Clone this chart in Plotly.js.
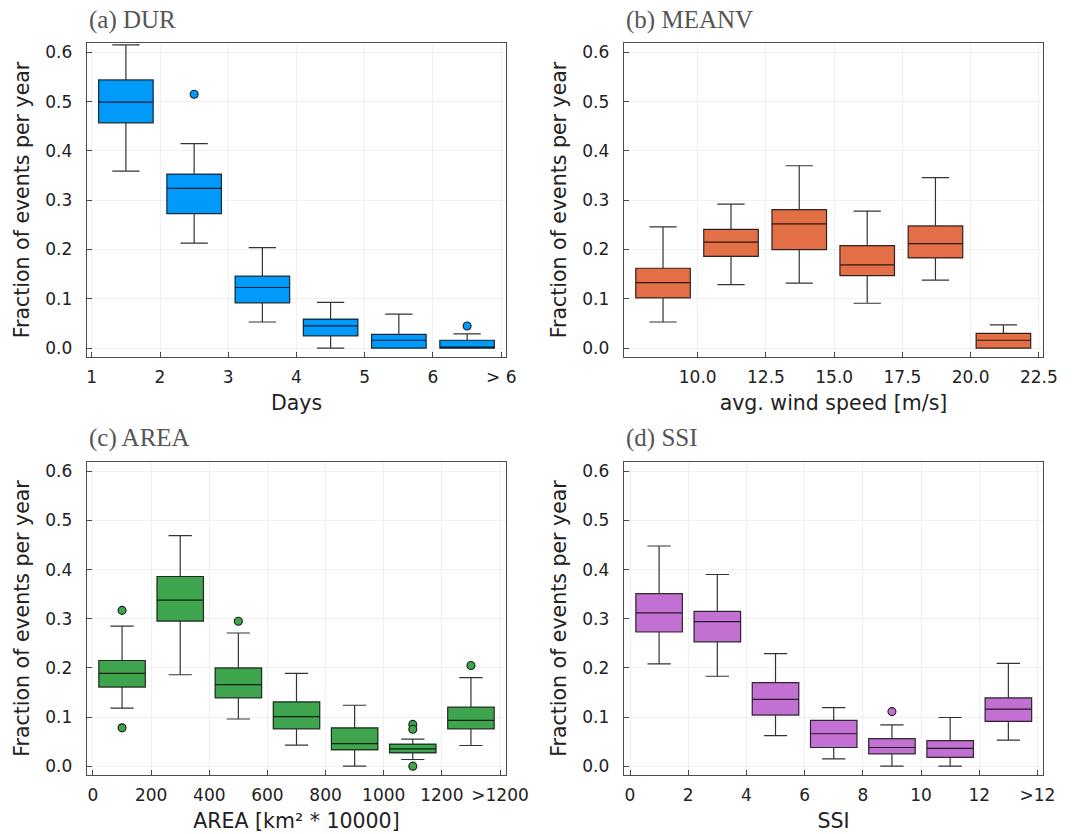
<!DOCTYPE html>
<html><head><meta charset="utf-8">
<script src="https://cdn.plot.ly/plotly-3.0.1.min.js"></script>
<style>body{margin:0;background:#fff}#chart{width:1076px;height:834px}</style>
</head><body><div id="chart"></div>
<script>
// ---- (a) DUR ----
const durX = [1.5, 2.5, 3.5, 4.5, 5.5, 6.5];
const durLow = [0.359, 0.213, 0.053, 0.000, 0.000, 0.000];
const durQ1 = [0.457, 0.273, 0.092, 0.025, 0.000, 0.000];
const durMed = [0.499, 0.324, 0.123, 0.045, 0.016, 0.000];
const durQ3 = [0.544, 0.353, 0.146, 0.059, 0.028, 0.016];
const durUp = [0.615, 0.415, 0.204, 0.093, 0.069, 0.029];
const durOutX = [2.5, 6.5];
const durOutY = [0.515, 0.045];
const durTickVals = [1, 2, 3, 4, 5, 6, 7];
const durTickText = ['1', '2', '3', '4', '5', '6', '> 6'];

// ---- (b) MEANV ----
const meanvX = [8.73, 11.22, 13.72, 16.21, 18.71, 21.2];
const meanvLow = [0.053, 0.129, 0.132, 0.091, 0.138, 0.000];
const meanvQ1 = [0.102, 0.186, 0.200, 0.147, 0.183, 0.000];
const meanvMed = [0.133, 0.215, 0.252, 0.169, 0.212, 0.016];
const meanvQ3 = [0.162, 0.241, 0.281, 0.208, 0.248, 0.030];
const meanvUp = [0.246, 0.292, 0.370, 0.278, 0.346, 0.047];
const meanvTickVals = [10, 12.5, 15, 17.5, 20, 22.5];
const meanvTickText = ['10.0', '12.5', '15.0', '17.5', '20.0', '22.5'];

// ---- (c) AREA ----
const areaX = [100, 300, 500, 700, 900, 1100, 1300];
const areaLow = [0.118, 0.186, 0.096, 0.043, 0.000, 0.0135, 0.042];
const areaQ1 = [0.161, 0.295, 0.139, 0.076, 0.033, 0.027, 0.076];
const areaMed = [0.189, 0.338, 0.166, 0.101, 0.046, 0.035, 0.093];
const areaQ3 = [0.215, 0.386, 0.200, 0.131, 0.078, 0.045, 0.120];
const areaUp = [0.285, 0.469, 0.271, 0.189, 0.124, 0.055, 0.180];
const areaOutX = [100, 100, 500, 1100, 1100, 1100, 1300];
const areaOutY = [0.317, 0.078, 0.295, 0.085, 0.075, 0.000, 0.205];
const areaTickVals = [0, 200, 400, 600, 800, 1000, 1200, 1400];
const areaTickText = ['0', '200', '400', '600', '800', '1000', '1200', '>1200'];

// ---- (d) SSI ----
const ssiX = [1, 3, 5, 7, 9, 11, 13];
const ssiLow = [0.208, 0.183, 0.062, 0.015, 0.000, 0.000, 0.053];
const ssiQ1 = [0.273, 0.253, 0.104, 0.038, 0.025, 0.018, 0.091];
const ssiMed = [0.312, 0.294, 0.136, 0.066, 0.038, 0.036, 0.116];
const ssiQ3 = [0.351, 0.315, 0.170, 0.093, 0.056, 0.052, 0.139];
const ssiUp = [0.448, 0.390, 0.229, 0.119, 0.084, 0.099, 0.209];
const ssiOutX = [9];
const ssiOutY = [0.111];
const ssiTickVals = [0, 2, 4, 6, 8, 10, 12, 14];
const ssiTickText = ['0', '2', '4', '6', '8', '10', '12', '>12'];

const yTickVals = [0, 0.1, 0.2, 0.3, 0.4, 0.5, 0.6];
const titles = ['(a) DUR', '(b) MEANV', '(c) AREA', '(d) SSI'];
const xTitles = ['Days', 'avg. wind speed [m/s]', 'AREA [km² * 10000]', 'SSI'];
const yTitle = 'Fraction of events per year';
const colors = ['#009AFA', '#E36F47', '#3EA44E', '#C271D2'];

const edge = 'rgba(0,0,0,0.8)';
function boxTrace(x, lo, q1, med, q3, up, w, color, ax) {
  return {
    type: 'box', x: x, lowerfence: lo, q1: q1, median: med, q3: q3, upperfence: up,
    width: w, whiskerwidth: 0.5, boxpoints: false, fillcolor: color,
    line: {color: edge, width: 1.2}, xaxis: 'x' + ax, yaxis: 'y' + ax,
    showlegend: false, hoverinfo: 'y'
  };
}
function outTrace(x, y, color, ax) {
  return {
    type: 'scatter', mode: 'markers', x: x, y: y, xaxis: 'x' + ax, yaxis: 'y' + ax,
    marker: {symbol: 'circle', size: 8, color: color, line: {color: 'rgba(0,0,0,0.85)', width: 1.1}},
    showlegend: false
  };
}

const data = [
  boxTrace(durX, durLow, durQ1, durMed, durQ3, durUp, 0.8, colors[0], ''),
  outTrace(durOutX, durOutY, colors[0], ''),
  boxTrace(meanvX, meanvLow, meanvQ1, meanvMed, meanvQ3, meanvUp, 2.0, colors[1], '2'),
  boxTrace(areaX, areaLow, areaQ1, areaMed, areaQ3, areaUp, 160, colors[2], '3'),
  outTrace(areaOutX, areaOutY, colors[2], '3'),
  boxTrace(ssiX, ssiLow, ssiQ1, ssiMed, ssiQ3, ssiUp, 1.6, colors[3], '4'),
  outTrace(ssiOutX, ssiOutY, colors[3], '4')
];

const tickFont = {family: 'DejaVu Sans', size: 17, color: '#222'};
const axTitleFont = {family: 'DejaVu Sans', size: 20.5, color: '#222'};
function xAxis(domain, range, tv, tt, title, anchor) {
  return {
    domain: domain, range: range, tickvals: tv, ticktext: tt, anchor: anchor,
    showline: true, mirror: true, linecolor: 'rgba(0,0,0,0.7)', linewidth: 1.3,
    ticks: 'inside', ticklen: 5, tickcolor: 'rgba(0,0,0,0.7)', tickwidth: 1,
    showgrid: true, gridcolor: 'rgba(0,0,0,0.09)', gridwidth: 0.6, zeroline: false,
    tickfont: tickFont, ticklabelstandoff: 4,
    title: {text: title, font: axTitleFont, standoff: 10}
  };
}
function yAxis(domain, anchor) {
  return {
    domain: domain, range: [-0.018, 0.619], tickvals: yTickVals, tickformat: '.1f', anchor: anchor,
    showline: true, mirror: true, linecolor: 'rgba(0,0,0,0.7)', linewidth: 1.3,
    ticks: 'inside', ticklen: 5, tickcolor: 'rgba(0,0,0,0.7)', tickwidth: 1,
    showgrid: true, gridcolor: 'rgba(0,0,0,0.09)', gridwidth: 0.6, zeroline: false,
    tickfont: tickFont, ticklabelstandoff: 10,
    title: {text: yTitle, font: axTitleFont, standoff: 10}
  };
}

const xdL = [87 / 1076, 506 / 1076], xdR = [624 / 1076, 1043 / 1076];
const ydT = [(834 - 357) / 834, (834 - 43) / 834], ydB = [(834 - 775) / 834, (834 - 462) / 834];

const titleFont = {family: 'Liberation Serif', size: 25, color: '#555'};
const layout = {
  width: 1076, height: 834, margin: {l: 0, r: 0, t: 0, b: 0},
  paper_bgcolor: '#fff', plot_bgcolor: '#fff', showlegend: false,
  xaxis: xAxis(xdL, [0.93, 7.07], durTickVals, durTickText, xTitles[0], 'y'),
  yaxis: yAxis(ydT, 'x'),
  xaxis2: xAxis(xdR, [7.30, 22.65], meanvTickVals, meanvTickText, xTitles[1], 'y2'),
  yaxis2: yAxis(ydT, 'x2'),
  xaxis3: xAxis(xdL, [-20.6, 1420.6], areaTickVals, areaTickText, xTitles[2], 'y3'),
  yaxis3: yAxis(ydB, 'x3'),
  xaxis4: xAxis(xdR, [-0.206, 14.19], ssiTickVals, ssiTickText, xTitles[3], 'y4'),
  yaxis4: yAxis(ydB, 'x4'),
  annotations: [
    {text: titles[0], xref: 'paper', yref: 'paper', x: xdL[0], y: 1 - 20 / 834, xanchor: 'left', yanchor: 'middle', showarrow: false, font: titleFont},
    {text: titles[1], xref: 'paper', yref: 'paper', x: xdR[0], y: 1 - 20 / 834, xanchor: 'left', yanchor: 'middle', showarrow: false, font: titleFont},
    {text: titles[2], xref: 'paper', yref: 'paper', x: xdL[0], y: 1 - 438 / 834, xanchor: 'left', yanchor: 'middle', showarrow: false, font: titleFont},
    {text: titles[3], xref: 'paper', yref: 'paper', x: xdR[0], y: 1 - 438 / 834, xanchor: 'left', yanchor: 'middle', showarrow: false, font: titleFont}
  ]
};

Plotly.newPlot('chart', data, layout, {displayModeBar: false, staticPlot: true});
</script>
</body></html>
